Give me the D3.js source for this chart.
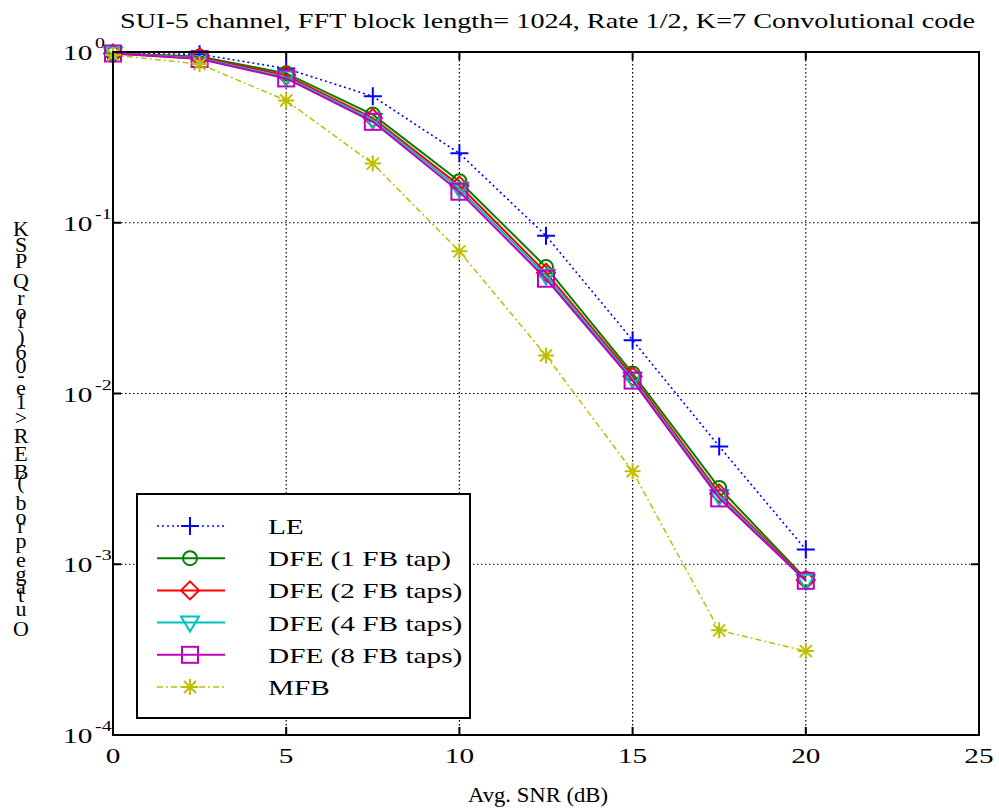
<!DOCTYPE html>
<html>
<head>
<meta charset="utf-8">
<script src="https://cdn.jsdelivr.net/npm/d3@7"></script>
<style>
  body { margin: 0; background: #fff; }
  text { font-family: "Liberation Serif", "Times New Roman", serif; fill: #000; }
</style>
</head>
<body>
<div id="chart"></div>
<script>
// data
var snr = [0, 2.5, 5, 7.5, 10, 12.5, 15, 17.5, 20];
var le   = [0.98, 0.97, 0.80, 0.55, 0.255, 0.084, 0.0205, 0.0049, 0.00122];
var dfe1 = [0.98, 0.94, 0.75, 0.43, 0.175, 0.055, 0.0131, 0.0028, 0.00082];
var dfe2 = [0.98, 0.93, 0.73, 0.41, 0.165, 0.051, 0.0126, 0.0026, 0.00081];
var dfe4 = [0.98, 0.92, 0.71, 0.40, 0.158, 0.049, 0.0122, 0.0025, 0.00080];
var dfe8 = [0.98, 0.91, 0.70, 0.39, 0.152, 0.047, 0.0119, 0.00243, 0.00080];
var mfb  = [0.96, 0.85, 0.52, 0.222, 0.068, 0.0167, 0.0035, 0.00041, 0.00031];

var seriesNames = ["LE", "DFE (1 FB tap)", "DFE (2 FB taps)", "DFE (4 FB taps)", "DFE (8 FB taps)", "MFB"];
var xTicks = [0, 5, 10, 15, 20, 25];
var yExps = [0, -1, -2, -3, -4];

var width = 999, height = 809;
var mLeft = 113, mRight = 979, mTop = 52, mBottom = 735;
var STRETCH = 1.33;   // the original's text is drawn wide

var x = d3.scaleLinear().domain([0, 25]).range([mLeft, mRight]);
var y = d3.scaleLog().domain([1e-4, 1]).range([mBottom, mTop]);

var svg = d3.select("#chart").append("svg")
    .attr("width", width)
    .attr("height", height);

// widen a text element by the stretch factor (or to a given width)
function widen(sel, w) {
    sel.each(function () {
        var len = w || this.getComputedTextLength() * STRETCH;
        d3.select(this).attr("textLength", len).attr("lengthAdjust", "spacingAndGlyphs");
    });
}

// dotted grid
svg.selectAll(".vgrid")
    .data(xTicks.filter(function (d) { return d > 0 && d < 25; }))
    .enter().append("line")
    .attr("x1", function (d) { return x(d); })
    .attr("x2", function (d) { return x(d); })
    .attr("y1", mTop).attr("y2", mBottom)
    .style("stroke", "#000").style("stroke-width", 1.2)
    .style("stroke-dasharray", "1.5,2.5");

svg.selectAll(".hgrid")
    .data(yExps.filter(function (e) { return e < 0 && e > -4; }))
    .enter().append("line")
    .attr("x1", mLeft).attr("x2", mRight)
    .attr("y1", function (e) { return y(Math.pow(10, e)); })
    .attr("y2", function (e) { return y(Math.pow(10, e)); })
    .style("stroke", "#000").style("stroke-width", 1.2)
    .style("stroke-dasharray", "1.5,2.5");

// tick marks inside the box, all four sides
xTicks.forEach(function (t) {
    svg.append("line").attr("x1", x(t)).attr("x2", x(t)).attr("y1", mBottom).attr("y2", mBottom - 8)
        .style("stroke", "#000").style("stroke-width", 2);
    svg.append("line").attr("x1", x(t)).attr("x2", x(t)).attr("y1", mTop).attr("y2", mTop + 8)
        .style("stroke", "#000").style("stroke-width", 2);
});
yExps.forEach(function (e) {
    var yy = y(Math.pow(10, e));
    svg.append("line").attr("x1", mLeft).attr("x2", mLeft + 8).attr("y1", yy).attr("y2", yy)
        .style("stroke", "#000").style("stroke-width", 2);
    svg.append("line").attr("x1", mRight).attr("x2", mRight - 8).attr("y1", yy).attr("y2", yy)
        .style("stroke", "#000").style("stroke-width", 2);
});

// tick labels
svg.selectAll(".xlab")
    .data(xTicks)
    .enter().append("text")
    .attr("x", function (d) { return x(d); })
    .attr("y", mBottom + 28)
    .attr("text-anchor", "middle")
    .style("font-size", "22px")
    .text(function (d) { return d; })
    .call(widen);

yExps.forEach(function (e) {
    var yy = y(Math.pow(10, e));
    var base = svg.append("text")
        .attr("x", 63).attr("y", yy + 8)
        .style("font-size", "22px")
        .text("10")
        .call(widen);
    svg.append("text")
        .attr("x", 95).attr("y", yy - 4)
        .style("font-size", "15px")
        .text(e)
        .call(widen);
});

// series
var series = [
    { name: seriesNames[0], values: le,   color: "#0000ff", dash: "2,3",     w: 1.6, marker: "plus" },
    { name: seriesNames[1], values: dfe1, color: "#008000", dash: null,      w: 2,   marker: "circle" },
    { name: seriesNames[2], values: dfe2, color: "#ff0000", dash: null,      w: 2,   marker: "diamond" },
    { name: seriesNames[3], values: dfe4, color: "#00bfbf", dash: null,      w: 2,   marker: "tri" },
    { name: seriesNames[4], values: dfe8, color: "#bf00bf", dash: null,      w: 2,   marker: "square" },
    { name: seriesNames[5], values: mfb,  color: "#bfbf00", dash: "6,3,2,3", w: 1.5, marker: "star" }
];

function drawMarker(g, type, cx, cy, color) {
    var s = g.append("g").attr("transform", "translate(" + cx + "," + cy + ")")
        .style("fill", "none").style("stroke", color).style("stroke-width", 2);
    if (type == "plus") {
        s.append("path").attr("d", "M-9,0H9M0,-9V9");
    } else if (type == "circle") {
        s.append("circle").attr("r", 7);
    } else if (type == "diamond") {
        s.append("path").attr("d", "M0,-9L9,0L0,9L-9,0Z");
    } else if (type == "tri") {
        s.append("path").attr("d", "M-9,-6H9L0,9Z");
    } else if (type == "square") {
        s.append("rect").attr("x", -8).attr("y", -8).attr("width", 16).attr("height", 16);
    } else if (type == "star") {
        s.append("path").attr("d", "M-8,0H8M0,-8V8M-6,-6L6,6M-6,6L6,-6");
    }
}

var line = d3.line()
    .x(function (d, i) { return x(snr[i]); })
    .y(function (d) { return y(d); });

series.forEach(function (s) {
    svg.append("path")
        .datum(s.values)
        .attr("d", line)
        .style("fill", "none")
        .style("stroke", s.color)
        .style("stroke-width", s.w)
        .style("stroke-dasharray", s.dash);
    s.values.forEach(function (v, i) {
        drawMarker(svg, s.marker, x(snr[i]), y(v), s.color);
    });
});

// plot box
svg.append("rect")
    .attr("x", mLeft).attr("y", mTop)
    .attr("width", mRight - mLeft).attr("height", mBottom - mTop)
    .style("fill", "none").style("stroke", "#000").style("stroke-width", 2);

// legend
var lg = svg.append("g").attr("transform", "translate(137,494)");
lg.append("rect").attr("width", 333).attr("height", 224)
    .style("fill", "#fff").style("stroke", "#000").style("stroke-width", 2);
series.forEach(function (s, i) {
    var ly = 32 + i * 32.2;
    lg.append("line").attr("x1", 20).attr("x2", 88).attr("y1", ly).attr("y2", ly)
        .style("stroke", s.color).style("stroke-width", s.w)
        .style("stroke-dasharray", s.dash);
    drawMarker(lg, s.marker, 53, ly, s.color);
    lg.append("text").attr("x", 131).attr("y", ly + 8)
        .style("font-size", "22px")
        .text(s.name)
        .call(widen);
});

// title
svg.append("text")
    .attr("x", 120).attr("y", 28)
    .style("font-size", "22px")
    .text("SUI-5 channel, FFT block length= 1024, Rate 1/2, K=7 Convolutional code")
    .call(widen, 855);

// x label
svg.append("text")
    .attr("x", 468).attr("y", 802)
    .style("font-size", "22px")
    .text("Avg. SNR (dB)")
    .call(widen, 140);

// y label: stacked upright glyphs, spaced by glyph width (as in the original)
var ylabel = "Outage prob (BER>1e-06) for QPSK";
var chars = ylabel.split("");
var probe = svg.append("text").style("font-size", "22px");
var widths = chars.map(function (c) {
    probe.text(c == " " ? "\u00a0" : c);
    return probe.node().getComputedTextLength();
});
probe.remove();
var total = d3.sum(widths);
var yStart = 628, yEnd = 208;
var k = (yStart - yEnd) / total;
var acc = 0;
chars.forEach(function (c, i) {
    var cy = yStart - acc * k;
    acc += widths[i];
    if (c == " ") return;
    svg.append("text")
        .attr("x", 21).attr("y", cy + 8)
        .attr("text-anchor", "middle")
        .style("font-size", "22px")
        .text(c);
});
</script>
</body>
</html>
